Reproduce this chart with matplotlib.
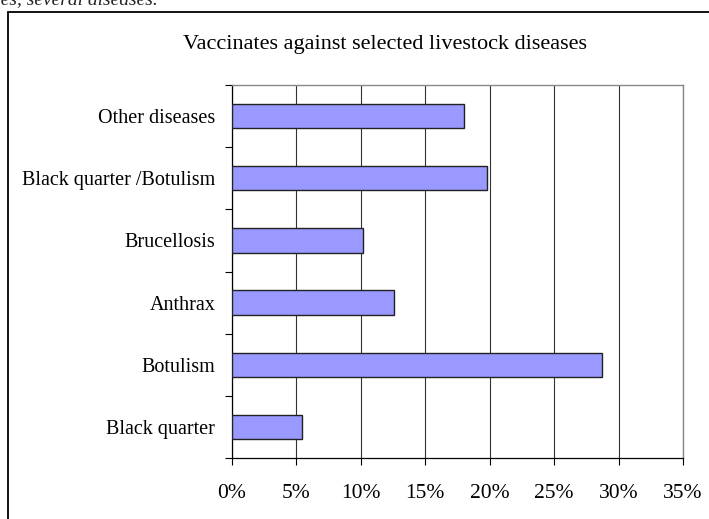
import matplotlib
matplotlib.use("Agg")
import matplotlib.pyplot as plt
from matplotlib.patches import Rectangle
from matplotlib.ticker import FixedLocator, PercentFormatter

plt.rcParams['font.family'] = ['Liberation Serif', 'DejaVu Serif']

# Share of vaccines, by disease (percent), bottom to top
diseases = ["Black quarter", "Botulism", "Anthrax", "Brucellosis",
            "Black quarter /Botulism", "Other diseases"]
shares = [5.4, 28.7, 12.6, 10.2, 19.8, 18.0]
x_ticks = [0, 5, 10, 15, 20, 25, 30, 35]
title = "Vaccinates against selected livestock diseases"

fig = plt.figure(figsize=(7.09, 5.19), dpi=100)

# heading line above the chart frame, mostly out of view
fig.text(158 / 709, 1 - 4 / 519, "vaccines, several diseases.", ha="right",
         va="baseline", fontsize=14, style="italic", color="#222222")

# chart frame
fig.patches.append(Rectangle((8 / 709, -0.2), 1.2, 1 - 12 / 519 + 0.2,
                             transform=fig.transFigure, fill=False,
                             edgecolor="black", linewidth=1.3))

ax = fig.add_axes([232 / 709, 1 - 458 / 519, (683 - 232) / 709, (458 - 85) / 519])
ypos = range(len(diseases))
ax.barh(ypos, shares, height=0.39, color="#9999FF", edgecolor="#222222",
        linewidth=1.0, zorder=3)

ax.set_xlim(0, 35)
ax.set_ylim(-0.5, len(diseases) - 0.5)
ax.set_xticks(x_ticks)
ax.xaxis.set_major_formatter(PercentFormatter(decimals=0))
ax.set_yticks(list(ypos))
ax.set_yticklabels(diseases)
ax.yaxis.set_minor_locator(FixedLocator([i - 0.5 for i in range(len(diseases) + 1)]))

ax.grid(axis="x", color="#333333", linewidth=0.8, zorder=0)
ax.tick_params(axis="y", which="major", length=0, pad=12, labelsize=14.5)
ax.tick_params(axis="y", which="minor", length=5, width=0.8, direction="out")
ax.tick_params(axis="x", length=5, width=0.8, pad=13.5, labelsize=15.5)

for side in ("top", "right"):
    ax.spines[side].set_color("#888888")
    ax.spines[side].set_linewidth(1.0)
for side in ("left", "bottom"):
    ax.spines[side].set_color("black")
    ax.spines[side].set_linewidth(0.9)

fig.text(385 / 709, 1 - 45 / 519, title, ha="center", va="center",
         fontsize=16)

fig.savefig("out.png", dpi=100)
